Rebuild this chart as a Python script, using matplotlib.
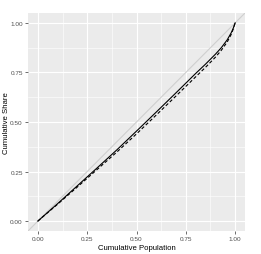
import matplotlib
matplotlib.use("Agg")
import matplotlib.pyplot as plt

plt.rcParams["font.family"] = ["Liberation Sans", "DejaVu Sans"]

# Lorenz curves
pop = [0, 0.05, 0.1, 0.2, 0.3, 0.4, 0.5, 0.6, 0.7, 0.8, 0.85, 0.9, 0.93,
       0.96, 0.98, 0.99, 1.0]
share_solid = [0, 0.044, 0.088, 0.178, 0.268, 0.359, 0.454, 0.550, 0.647,
               0.745, 0.792, 0.842, 0.875, 0.915, 0.950, 0.972, 1.0]
share_dashed = [0, 0.043, 0.085, 0.172, 0.260, 0.348, 0.440, 0.535, 0.631,
                0.728, 0.776, 0.827, 0.862, 0.904, 0.942, 0.968, 1.0]
ticks = [0, 0.25, 0.5, 0.75, 1.0]
tick_labels = ["0.00", "0.25", "0.50", "0.75", "1.00"]

fig = plt.figure(figsize=(2.61, 2.55), dpi=100)
ax = fig.add_axes([28 / 261, 1 - 232 / 255, 217 / 261, 218 / 255])
ax.set_facecolor("#EBEBEB")

# grid
for v in [0.125, 0.375, 0.625, 0.875]:
    ax.axvline(v, color="white", lw=0.4, zorder=0)
    ax.axhline(v, color="white", lw=0.4, zorder=0)
for v in ticks:
    ax.axvline(v, color="white", lw=0.8, zorder=0)
    ax.axhline(v, color="white", lw=0.8, zorder=0)

ax.axline((0, 0), (1, 1), color="#CFCFCF", lw=0.8, zorder=1)
ax.plot(pop, share_solid, color="black", lw=0.8, zorder=2)
ax.plot(pop, share_dashed, color="black", lw=0.8, ls=(0, (3, 2)), zorder=2)

ax.set_xlim(-0.05, 1.05)
ax.set_ylim(-0.05, 1.05)
ax.set_xticks(ticks)
ax.set_xticklabels(tick_labels)
ax.set_yticks(ticks)
ax.set_yticklabels(tick_labels)
ax.tick_params(length=2.2, width=0.5, color="#333333", labelsize=4.6,
               labelcolor="#4D4D4D", pad=1.5)
for s in ax.spines.values():
    s.set_visible(False)

ax.set_xlabel("Cumulative Population", fontsize=5.6, labelpad=2)
ax.set_ylabel("Cumulative Share", fontsize=5.6, va="center")
ax.yaxis.set_label_coords(-0.098, 0.5)

fig.savefig("out.png", dpi=100)
